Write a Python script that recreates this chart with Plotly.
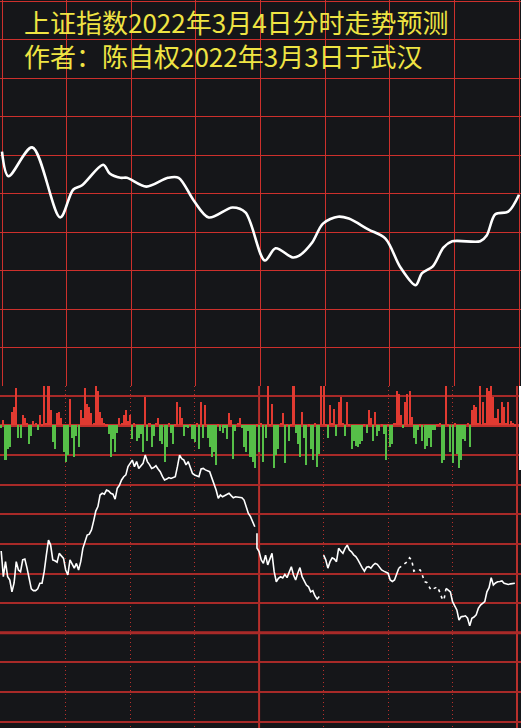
import plotly.graph_objects as go

# ---------------- data ----------------
# top panel: forecast curve (minute index, index level)
fc_minutes = [0, 3, 14, 27, 33, 37, 47, 50, 55, 58, 67, 77, 82, 89, 96, 107, 113, 122, 127, 135,
              138, 144, 149, 156, 161, 170, 178, 185, 192, 195, 200, 205, 209, 222, 225, 229, 235, 240]
fc_values = [3490.9, 3484.5, 3492.0, 3473.8, 3481.0, 3482.1, 3487.5, 3485.2, 3484.1, 3484.1, 3481.8,
             3484.1, 3484.1, 3478.2, 3473.8, 3476.4, 3475.1, 3462.6, 3465.8, 3463.4, 3463.9, 3467.3,
             3472.2, 3474.0, 3473.5, 3470.7, 3468.3, 3460.8, 3456.2, 3459.3, 3461.1, 3466.0, 3467.6,
             3467.6, 3469.1, 3474.6, 3475.3, 3479.7]

# bottom panel: per-minute buy/sell difference bars
flow_values = [
    -10, 17, -115, -78, -74, 44, 64, 128, -41, -41, 34, 24, 10, -64, -37, 14, 8, -14, 34, 5,
    132, 10, 132, 51, -57, -78, 41, 47, 24, -88, -125, -98, 91, -41, -108, -37, -74, 54, 27, 128,
    74, 64, 41, 10, 132, 118, 47, 27, 10, 5, -30, -108, -47, -88, -24, 27, 10, 34, 51, 14,
    34, -44, 8, -51, -41, -30, -91, 95, -51, 10, -71, -37, 10, 27, -51, -61, -122, -74, 8, -24,
    -64, 5, 78, 64, 27, -37, -5, -8, 5, -44, -57, 10, -81, 81, -41, 68, -41, -74, -108, -88,
    -132, 5, -20, -27, -10, -44, 41, 17, -112, -17, 10, 24, -8, -74, -91, -20, -105, -125, -145, 5,
    -88, 10, -125, -41, 132, 5, 71, -142, -101, -81, 8, 41, -128, 5, -51, 5, 132, -27, -61, -105,
    44, -41, -132, 5, -81, -115, 8, -139, -95, 140, 140, 5, -41, 68, 10, 57, -34, 81, 95, 10,
    -37, 78, 5, -78, -51, -68, -71, -61, -51, 5, -24, 51, 27, -51, 44, -37, -20, 5, -30, -118,
    5, -71, -64, 8, 115, 108, 34, -10, 78, 105, 115, 30, -41, -61, -14, 5, -51, -78, -68, -41,
    -71, -14, -14, 5, 10, -128, -115, 132, 5, -88, -128, 10, -95, -145, -118, -44, -51, 10, -71, 51,
    68, 61, 10, 132, 81, 10, 125, 115, 132, 95, 27, 57, 10, 81, 64, 10, 78, 14, 10, 5,
]
flow_minutes = list(range(len(flow_values)))

# bottom panel: reference intraday line (solid parts, None = break)
ref_minutes = (list(range(0, 119)) + [118, 119, 119] + list(range(120, 149)) + [149]
               + list(range(150, 186)) + [186] + list(range(207, 240)))
ref_values = [
    3457.3, 3448.6, 3453.7, 3448.6, 3447.5, 3443.5, 3446.5, 3453.7, 3450.9, 3450.3,
    3454.3, 3454.6, 3451.6, 3447.5, 3444.5, 3443.9, 3443.9, 3444.5, 3446.4, 3446.4,
    3450.3, 3455.9, 3461.0, 3459.3, 3454.3, 3454.0, 3453.5, 3456.5, 3455.5, 3454.8,
    3450.9, 3449.2, 3454.3, 3453.1, 3451.5, 3453.1, 3450.9, 3453.7, 3458.2, 3460.4,
    3462.7, 3463.0, 3464.4, 3467.4, 3470.8, 3472.3, 3476.2, 3476.8, 3476.5, 3477.9,
    3477.6, 3476.8, 3476.5, 3474.8, 3478.5, 3479.5, 3481.3, 3482.4, 3483.0, 3485.8,
    3486.9, 3488.0, 3485.8, 3487.5, 3485.2, 3486.0, 3486.9, 3489.7, 3487.5, 3486.5,
    3485.2, 3485.5, 3486.1, 3485.0, 3484.1, 3482.5, 3481.3, 3481.6, 3482.1, 3481.8,
    3482.0, 3482.4, 3485.8, 3489.7, 3488.5, 3488.0, 3486.4, 3487.5, 3485.5, 3483.5,
    3483.0, 3482.7, 3482.4, 3485.0, 3485.2, 3484.7, 3484.5, 3484.1, 3482.0, 3480.2,
    3477.9, 3475.1, 3476.2, 3475.6, 3476.0, 3476.5, 3476.8, 3476.0, 3475.3, 3475.6,
    3475.5, 3475.3, 3475.3, 3474.5, 3472.3, 3470.0, 3468.9, 3467.0, 3465.5,
    None, 3463.3, 3458.3,
    3457.1, 3454.3, 3453.1, 3455.9, 3452.6, 3454.3, 3456.5, 3450.3, 3446.9, 3448.1,
    3448.6, 3448.2, 3449.4, 3448.3, 3450.3, 3452.0, 3449.2, 3447.5, 3449.8, 3451.7,
    3448.6, 3446.9, 3445.8, 3445.2, 3443.5, 3443.9, 3442.1, 3441.1, 3441.9,
    None,
    3455.9, 3454.3, 3451.5, 3453.7, 3455.0, 3454.6, 3453.7, 3458.2, 3457.3, 3456.5,
    3458.2, 3459.3, 3457.6, 3457.0, 3456.0, 3455.4, 3454.3, 3452.8, 3451.6, 3450.5,
    3451.8, 3452.0, 3451.5, 3452.5, 3453.1, 3452.8, 3451.8, 3450.9, 3450.5, 3450.1,
    3449.8, 3447.5, 3447.0, 3447.5, 3449.2, 3451.5,
    None,
    3444.7, 3444.0, 3443.5, 3440.2, 3438.5, 3437.4, 3434.0, 3435.1, 3435.2, 3435.4,
    3434.6, 3432.0, 3434.6, 3435.0, 3435.7, 3437.9, 3439.0, 3439.6, 3440.2, 3443.5,
    3444.9, 3448.3, 3445.8, 3446.5, 3446.9, 3447.0, 3447.2, 3446.4, 3446.2, 3446.0,
    3446.2, 3446.4, 3446.4,
]
# dotted stretch of the reference line
dot_minutes = list(range(185, 208))
dot_values = [3451.5, 3452.0, 3452.5, 3453.1, 3453.7, 3455.0, 3454.3, 3450.5, 3450.9, 3450.9,
              3450.9, 3449.0, 3446.9, 3446.7, 3445.5, 3444.1, 3444.5, 3445.0, 3445.2, 3443.5,
              3441.5, 3440.7, 3444.7]

title_text = "上证指数2022年3月4日分时走势预测<br>作者：陈自权2022年3月3日于武汉"

# ---------------- style ----------------
W, H = 521, 728
BG = "#151619"
RED_GRID = "#cc302c"
DARK_GRID = "#a82a28"
SPLIT = 1 - 386 / H

fig = go.Figure()

fig.add_trace(go.Scatter(x=fc_minutes, y=fc_values, mode="lines",
                         line=dict(color="white", width=2.6, shape="spline", smoothing=0.9),
                         xaxis="x", yaxis="y", hoverinfo="skip"))

bar_colors = ["#e13a31" if v >= 0 else "#56bf48" for v in flow_values]
fig.add_trace(go.Bar(x=flow_minutes, y=flow_values, width=0.95,
                     marker=dict(color=bar_colors, line=dict(width=0)),
                     xaxis="x2", yaxis="y2", hoverinfo="skip"))

fig.add_trace(go.Scatter(x=ref_minutes, y=ref_values, mode="lines", connectgaps=False,
                         line=dict(color="white", width=1.6), xaxis="x2", yaxis="y3", hoverinfo="skip"))
fig.add_trace(go.Scatter(x=dot_minutes, y=dot_values, mode="lines",
                         line=dict(color="white", width=1.6, dash="3px,4px"),
                         xaxis="x2", yaxis="y3", hoverinfo="skip"))

common_hidden = dict(showticklabels=False, ticks="", zeroline=False, showline=False)

fig.update_layout(
    width=W, height=H, margin=dict(l=0, r=0, t=0, b=0),
    paper_bgcolor=BG, plot_bgcolor=BG, showlegend=False, bargap=0,
    xaxis=dict(domain=[0, 1], anchor="y", range=[-0.93, 240.93], tickvals=list(range(0, 241, 30)),
               showgrid=True, gridcolor=RED_GRID, gridwidth=1, **common_hidden),
    yaxis=dict(domain=[SPLIT, 1], anchor="x", range=[3430, 3530.3], tick0=3430, dtick=10,
               showgrid=True, gridcolor=RED_GRID, gridwidth=1, **common_hidden),
    xaxis2=dict(domain=[0, 1], anchor="y2", range=[-0.56, 241.86], tickvals=[30, 60, 90, 150, 180, 210],
                showgrid=True, gridcolor="#b8302c", gridwidth=1.3, griddash="1px,3px", **common_hidden),
    yaxis2=dict(domain=[0, SPLIT], anchor="x2", range=[-1021.9, 133.4], tick0=0, dtick=100,
                showgrid=True, gridcolor=DARK_GRID, gridwidth=2,
                showticklabels=False, ticks="", showline=False,
                zeroline=True, zerolinecolor="#c0302c", zerolinewidth=3),
    yaxis3=dict(overlaying="y2", anchor="x2", range=[3397.5, 3513.04], showgrid=False, **common_hidden),
)

# solid verticals in the lower panel and the thick reference level
fig.add_shape(type="line", xref="x2", yref="y2 domain", x0=120, x1=120, y0=0, y1=1,
              line=dict(color="#b8302c", width=2), layer="below")
fig.add_shape(type="line", xref="x2", yref="y2 domain", x0=240, x1=240, y0=0, y1=1,
              line=dict(color="#b8302c", width=2), layer="below")
fig.add_shape(type="line", xref="x2 domain", yref="y2", x0=0, x1=1, y0=-700, y1=-700,
              line=dict(color="#b02a28", width=3), layer="below")
# white strip at the right edge of the bar area
fig.add_shape(type="rect", xref="paper", yref="paper", x0=519 / W, x1=1, y0=1 - 470 / H, y1=SPLIT,
              fillcolor="white", line=dict(width=0))

fig.add_annotation(text=title_text, xref="paper", yref="paper", x=22 / W, y=1 - 38.5 / H,
                   xanchor="left", yanchor="middle", align="left", showarrow=False,
                   font=dict(family="Noto Sans CJK SC", size=26, color="#efe443"))

fig.write_html("out.html", config={"displayModeBar": False},
               post_script="document.body.style.margin='0';document.body.style.overflow='hidden';")
